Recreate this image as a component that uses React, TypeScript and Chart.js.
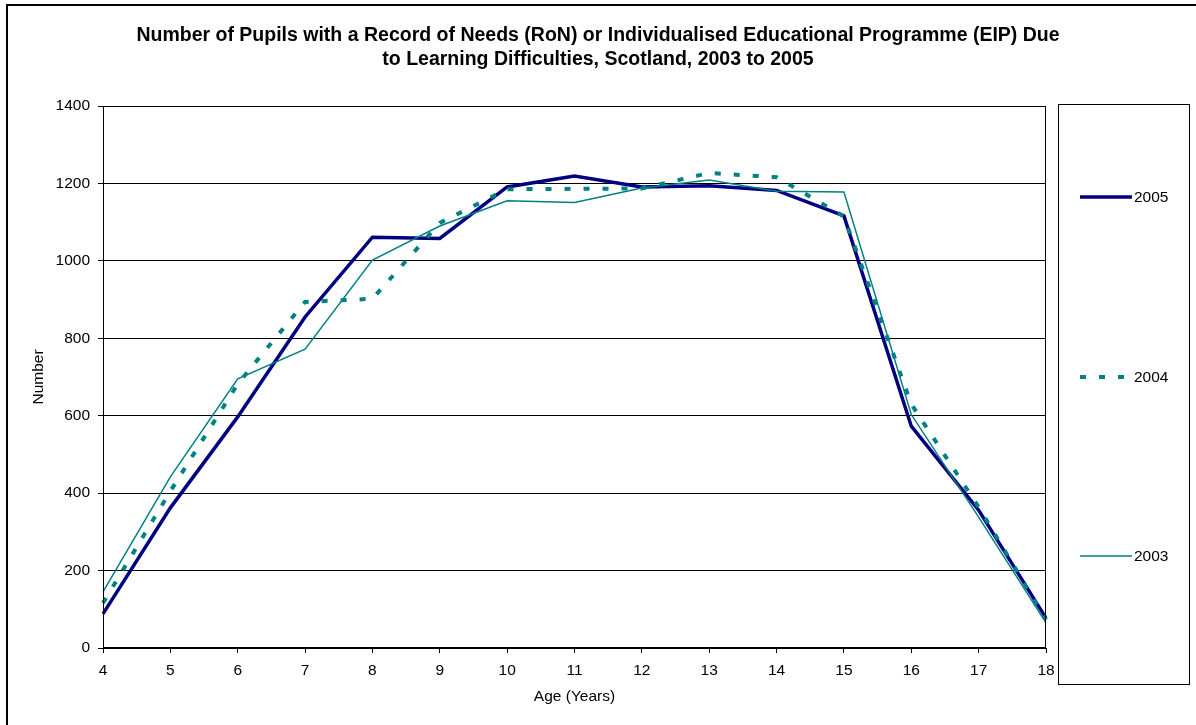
import React, { useEffect, useRef } from "react";
import { Chart, registerables } from "chart.js";

Chart.register(...registerables);

const TITLE_LINES = [
  "Number of Pupils with a Record of Needs (RoN) or Individualised Educational Programme (EIP) Due",
  "to Learning Difficulties, Scotland, 2003 to 2005",
];
const AGES = ["4", "5", "6", "7", "8", "9", "10", "11", "12", "13", "14", "15", "16", "17", "18"];
const SERIES_2005 = [88, 362, 597, 855, 1061, 1058, 1191, 1219, 1191, 1194, 1182, 1116, 573, 356, 77];
const SERIES_2004 = [116, 405, 682, 894, 902, 1098, 1185, 1186, 1187, 1227, 1216, 1115, 630, 364, 73];
const SERIES_2003 = [145, 442, 695, 772, 1002, 1090, 1155, 1151, 1188, 1209, 1180, 1178, 603, 338, 65];
const Y_MIN = 0;
const Y_MAX = 1400;
const Y_STEP = 200;
const X_TITLE = "Age (Years)";
const Y_TITLE = "Number";

const FONT = "Arial, 'Liberation Sans', Helvetica, sans-serif";
const TEXT_SIZE = 15.5;
const NAVY = "#000080";
const TEAL = "#008080";

const framePlugin = {
  id: "frame",
  beforeDraw(chart: any) {
    const ctx = chart.ctx;
    ctx.save();
    ctx.fillStyle = "#ffffff";
    ctx.fillRect(0, 0, chart.width, chart.height);
    ctx.fillStyle = "#000000";
    ctx.fillRect(6, 4, chart.width - 6, 2);
    ctx.fillRect(6, 4, 2, chart.height - 4);
    ctx.restore();
  },
  afterDatasetsDraw(chart: any) {
    const { ctx, chartArea } = chart;
    ctx.save();
    ctx.strokeStyle = "#000000";
    ctx.lineWidth = 1;
    ctx.strokeRect(
      Math.round(chartArea.left) + 0.5,
      Math.round(chartArea.top) + 0.5,
      Math.round(chartArea.right - chartArea.left) - 1,
      Math.round(chartArea.bottom - chartArea.top) - 1
    );
    ctx.restore();
  },
};

const legendPlugin = {
  id: "boxLegend",
  afterDraw(chart: any) {
    const ctx = chart.ctx;
    const box = { x: 1058.5, y: 104.5, w: 131, h: 580 };
    ctx.save();
    ctx.strokeStyle = "#000000";
    ctx.lineWidth = 1;
    ctx.strokeRect(box.x, box.y, box.w, box.h);
    const ys = [197, 377, 556];
    chart.data.datasets.forEach((ds: any, i: number) => {
      const y = ys[i];
      ctx.beginPath();
      ctx.strokeStyle = ds.borderColor;
      ctx.lineWidth = ds.borderWidth;
      ctx.lineCap = "butt";
      ctx.setLineDash(ds.borderDash || []);
      ctx.moveTo(1080, y);
      ctx.lineTo(1132, y);
      ctx.stroke();
      ctx.setLineDash([]);
      ctx.fillStyle = "#000000";
      ctx.font = `${TEXT_SIZE}px ${FONT}`;
      ctx.textAlign = "left";
      ctx.textBaseline = "middle";
      ctx.fillText(ds.label, 1134, y + 1);
    });
    ctx.restore();
  },
};

export default function App() {
  const canvasRef = useRef<HTMLCanvasElement | null>(null);

  useEffect(() => {
    if (!canvasRef.current) return;
    const chart = new Chart(canvasRef.current, {
      type: "line",
      data: {
        labels: AGES,
        datasets: [
          {
            label: "2005",
            data: SERIES_2005,
            borderColor: NAVY,
            backgroundColor: NAVY,
            borderWidth: 3.5,
            pointRadius: 0,
            tension: 0,
            order: 2,
          },
          {
            label: "2004",
            data: SERIES_2004,
            borderColor: TEAL,
            backgroundColor: TEAL,
            borderWidth: 4,
            borderDash: [6, 13],
            borderCapStyle: "butt",
            pointRadius: 0,
            tension: 0,
            order: 1,
          },
          {
            label: "2003",
            data: SERIES_2003,
            borderColor: TEAL,
            backgroundColor: TEAL,
            borderWidth: 1.5,
            pointRadius: 0,
            tension: 0,
            order: 0,
          },
        ],
      },
      options: {
        responsive: false,
        animation: false,
        layout: { padding: 0 },
        plugins: {
          legend: { display: false },
          tooltip: { enabled: false },
          title: {
            display: true,
            text: TITLE_LINES,
            color: "#000000",
            font: { family: FONT, size: 19.5, weight: "bold", lineHeight: 24 / 19.5 },
            padding: { top: 24, bottom: 34 },
          },
        },
        scales: {
          x: {
            type: "category",
            offset: false,
            grid: {
              display: true,
              drawOnChartArea: false,
              drawTicks: true,
              tickLength: 5,
              color: "#000000",
            },
            border: { display: true, color: "#000000", width: 1 },
            ticks: {
              color: "#000000",
              font: { family: FONT, size: TEXT_SIZE },
              padding: 8,
              maxRotation: 0,
              autoSkip: false,
            },
            title: {
              display: true,
              text: X_TITLE,
              color: "#000000",
              font: { family: FONT, size: TEXT_SIZE },
              padding: { top: 0, bottom: 19 },
            },
            afterFit(scale: any) {
              scale.height = 77;
            },
          },
          y: {
            type: "linear",
            min: Y_MIN,
            max: Y_MAX,
            grid: {
              color: "#000000",
              lineWidth: 1,
              tickLength: 5,
            },
            border: { display: true, color: "#000000", width: 1 },
            ticks: {
              stepSize: Y_STEP,
              color: "#000000",
              font: { family: FONT, size: TEXT_SIZE },
              padding: 8,
              callback: (v: any) => String(v),
            },
            title: {
              display: true,
              text: Y_TITLE,
              color: "#000000",
              font: { family: FONT, size: TEXT_SIZE },
              padding: { top: 29, bottom: 0 },
            },
            afterFit(scale: any) {
              scale.width = 103;
            },
          },
          legendSpace: {
            type: "linear",
            position: "right",
            display: true,
            grid: { display: false },
            border: { display: false },
            ticks: { display: false },
            afterFit(scale: any) {
              scale.width = 150;
            },
          },
        },
      },
      plugins: [framePlugin, legendPlugin],
    } as any);
    return () => chart.destroy();
  }, []);

  return (
    <div style={{ position: "absolute", left: 0, top: 0, width: 1196, height: 725, background: "#fff" }}>
      <canvas ref={canvasRef} width={1196} height={725} style={{ width: 1196, height: 725, display: "block" }} />
    </div>
  );
}
